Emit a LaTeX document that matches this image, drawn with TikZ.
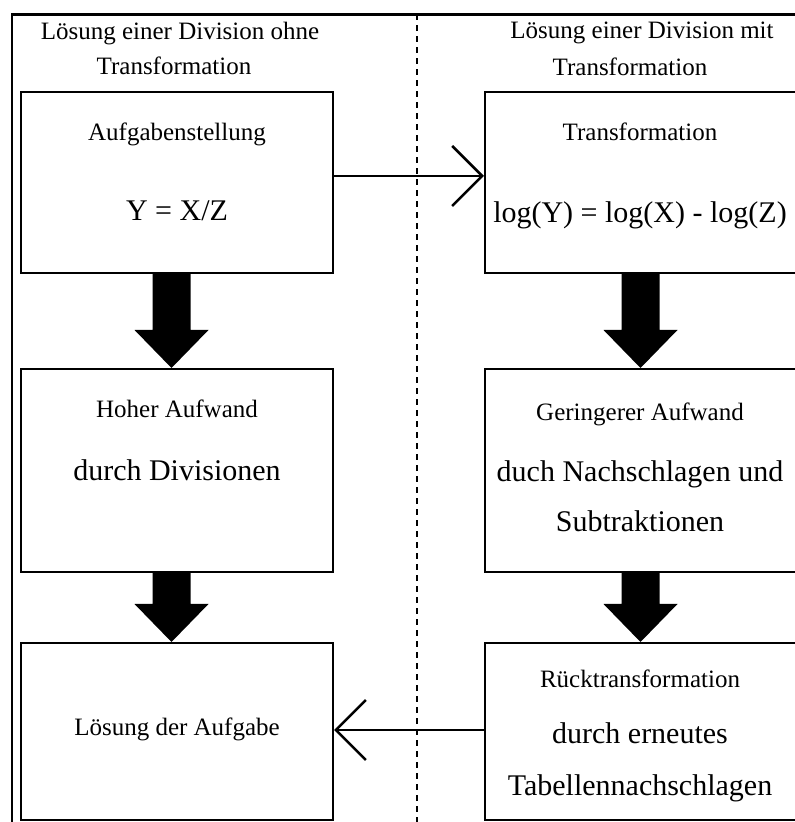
\documentclass[tikz,border=0pt]{standalone}
\usepackage{fontspec}
\setmainfont{Liberation Serif}
\usetikzlibrary{arrows.meta,calc}

\tikzset{
  kasten/.style = {draw, line width=2pt, rectangle, inner sep=0pt},
  klein/.style  = {anchor=base, font=\fontsize{25}{30}\selectfont},
  gross/.style  = {anchor=base, font=\fontsize{30}{36}\selectfont},
  duenn/.style  = {line width=2.5pt, -{Straight Barb[length=30pt,width=60pt,line width=2.5pt]}}
}

% dicker Pfeil von Kasten #1 nach Kasten #2 bei x = #3
\newcommand{\dickpfeil}[3]{%
  \fill let \p1 = (#1.south), \p2 = (#2.north) in
    ({#3pt-19pt},\y1) -- ({#3pt+19pt},\y1) -- ({#3pt+19pt},\y2+38pt)
    -- ({#3pt+37pt},\y2+38pt) -- (#3pt,\y2) -- ({#3pt-37pt},\y2+38pt)
    -- ({#3pt-19pt},\y2+38pt) -- cycle;}

\begin{document}
\begin{tikzpicture}[x=1pt,y=1pt]
  \clip (0,0) rectangle (795,822);

  \draw[line width=2.5pt] (12,-5) -- (12,807.5) -- (800,807.5);
  \draw[line width=2pt, dash pattern=on 6pt off 5pt] (416.5,807.5) -- (416.5,-5);

  \node[klein] (kopfl1) at (180,782) {Lösung einer Division ohne};
  \node[klein] (kopfl2) at (174,747) {Transformation};
  \node[klein] (kopfr1) at (642,783) {Lösung einer Division mit};
  \node[klein] (kopfr2) at (630,746) {Transformation};

  \node[kasten, minimum width=312pt, minimum height=181pt] (aufgabe) at (177,639.5) {};
  \node[kasten, minimum width=312pt, minimum height=181pt] (transf) at (641,639.5) {};
  \node[kasten, minimum width=312pt, minimum height=203pt] (aufwandhoch) at (177,351.5) {};
  \node[kasten, minimum width=312pt, minimum height=203pt] (aufwandgering) at (641,351.5) {};
  \node[kasten, minimum width=312pt, minimum height=177pt] (loesung) at (177,90.5) {};
  \node[kasten, minimum width=312pt, minimum height=177pt] (rueck) at (641,90.5) {};

  \node[klein] (t1) at (177,681) {Aufgabenstellung};
  \node[gross] (t2) at (177,601) {Y = X/Z};
  \node[klein] (t3) at (640,681) {Transformation};
  \node[gross] (t4) at (640,599) {log(Y) = log(X) - log(Z)};
  \node[klein] (t5) at (177,404) {Hoher Aufwand};
  \node[gross] (t6) at (177,341) {durch Divisionen};
  \node[klein] (t7) at (640,401) {Geringerer Aufwand};
  \node[gross] (t8) at (640,340) {duch Nachschlagen und};
  \node[gross] (t9) at (640,290) {Subtraktionen};
  \node[klein] (t10) at (177,86) {Lösung der Aufgabe};
  \node[klein] (t11) at (640,134) {Rücktransformation};
  \node[gross] (t12) at (640,78) {durch erneutes};
  \node[gross] (t13) at (640,27) {Tabellennachschlagen};

  \dickpfeil{aufgabe}{aufwandhoch}{171.5}
  \dickpfeil{aufwandhoch}{loesung}{171.5}
  \dickpfeil{transf}{aufwandgering}{640.5}
  \dickpfeil{aufwandgering}{rueck}{640.5}

  \draw[duenn] ([yshift=6.5pt]aufgabe.east) -- ([yshift=6.5pt]transf.west);
  \draw[duenn] ([yshift=1.5pt]rueck.west) -- ([yshift=1.5pt]loesung.east);
\end{tikzpicture}
\end{document}
